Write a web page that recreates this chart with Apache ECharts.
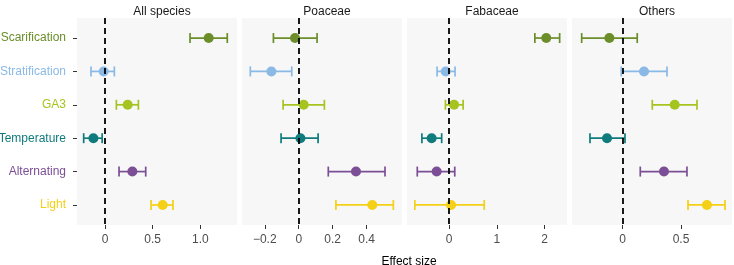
<!DOCTYPE html>
<html>
<head>
<meta charset="utf-8">
<script src="https://cdn.jsdelivr.net/npm/echarts@6/dist/echarts.min.js"></script>
<style>
  html, body { margin: 0; padding: 0; background: #fff; }
  #chart { width: 734px; height: 265px; }
</style>
</head>
<body>
<div id="chart"></div>
<script>
// treatments (rows, top to bottom) and facets
var categories = ['Scarification', 'Stratification', 'GA3', 'Temperature', 'Alternating', 'Light'];
var panels = ['All species', 'Poaceae', 'Fabaceae', 'Others'];

// effect size estimates and 95% CI, per facet, in category order
var allEst  = [1.088, -0.014, 0.238, -0.122, 0.287, 0.605];
var allLow  = [0.892, -0.147, 0.119, -0.224, 0.147, 0.483];
var allHigh = [1.283,  0.098, 0.350, -0.030, 0.427, 0.713];

var poaEst  = [-0.022, -0.161,  0.029,  0.010, 0.337, 0.433];
var poaLow  = [-0.149, -0.285, -0.092, -0.104, 0.174, 0.219];
var poaHigh = [ 0.108, -0.041,  0.151,  0.114, 0.508, 0.557];

var fabEst  = [2.036, -0.070,  0.105, -0.364, -0.259,  0.042];
var fabLow  = [1.797, -0.250, -0.076, -0.568, -0.665, -0.716];
var fabHigh = [2.316,  0.126,  0.295, -0.154,  0.120,  0.737];

var othEst  = [-0.114,  0.183, 0.446, -0.134, 0.354, 0.722];
var othLow  = [-0.351, -0.012, 0.254, -0.280, 0.151, 0.560];
var othHigh = [ 0.125,  0.380, 0.637,  0.020, 0.551, 0.877];

var xTicks = [[0, 0.5, 1.0], [-0.2, 0, 0.2, 0.4], [0, 1, 2], [0, 0.5]];
var tickFmt = [function (v) { return v === 0 ? '0' : v.toFixed(1); },
               function (v) { return v === 0 ? '0' : v.toFixed(1).replace('-', '\u2212'); },
               function (v) { return String(v); },
               function (v) { return v === 0 ? '0' : v.toFixed(1); }];

var palette = ['#6b8e2b', '#8ab9e6', '#a6c41f', '#0f7b7c', '#7b4e96', '#f4d016'];

var est = [allEst, poaEst, fabEst, othEst];
var low = [allLow, poaLow, fabLow, othLow];
var high = [allHigh, poaHigh, fabHigh, othHigh];

var lefts = [77, 242, 407, 572];
var panelW = 160;
var xRange = [[-0.294, 1.385], [-0.334, 0.608], [-0.88, 2.47], [-0.434, 0.937]];
var font = 'Liberation Sans, Arial, sans-serif';

var grid = [], xAxis = [], yAxis = [], series = [], title = [];

panels.forEach(function (name, p) {
    grid.push({
        left: lefts[p], top: 18, width: panelW, height: 207,
        outerBoundsMode: 'none', containLabel: false,
        show: true, backgroundColor: '#f7f7f7', borderWidth: 0
    });
    title.push({
        text: name, left: lefts[p] + panelW / 2, top: 1, textAlign: 'center',
        textStyle: { fontSize: 12, fontWeight: 'normal', color: '#1a1a1a', fontFamily: font }
    });
    xAxis.push({
        type: 'value', gridIndex: p, min: xRange[p][0], max: xRange[p][1],
        position: 'bottom',
        splitLine: { show: false },
        axisLine: { show: false, onZero: false },
        axisTick: { show: true, length: 4, customValues: xTicks[p], lineStyle: { color: '#333' } },
        axisLabel: {
            customValues: xTicks[p], formatter: tickFmt[p], margin: 9,
            fontSize: 12, color: '#4d4d4d', fontFamily: font
        }
    });
    yAxis.push({
        type: 'value', gridIndex: p, min: -0.6, max: 5.6, inverse: true,
        position: 'left',
        splitLine: { show: false },
        axisLine: { show: false, onZero: false },
        axisTick: { show: p === 0, length: 4, customValues: [0, 1, 2, 3, 4, 5], lineStyle: { color: '#333' } },
        axisLabel: {
            show: p === 0, customValues: [0, 1, 2, 3, 4, 5], margin: 11,
            fontSize: 12, fontFamily: font,
            formatter: function (v) { return categories[v]; },
            color: function (v) { return palette[v]; }
        }
    });

    // error bars
    series.push({
        type: 'custom', xAxisIndex: p, yAxisIndex: p,
        data: categories.map(function (c, i) { return [low[p][i], high[p][i], i]; }),
        encode: { x: [0, 1], y: 2 },
        renderItem: function (params, api) {
            var i = api.value(2);
            var a = api.coord([api.value(0), i]);
            var b = api.coord([api.value(1), i]);
            var h = 5;
            var st = { stroke: palette[i], lineWidth: 1.7 };
            return {
                type: 'group',
                children: [
                    { type: 'line', shape: { x1: a[0], y1: a[1], x2: b[0], y2: b[1] }, style: st },
                    { type: 'line', shape: { x1: a[0], y1: a[1] - h, x2: a[0], y2: a[1] + h }, style: st },
                    { type: 'line', shape: { x1: b[0], y1: b[1] - h, x2: b[0], y2: b[1] + h }, style: st }
                ]
            };
        },
        silent: true
    });

    // point estimates + zero line
    series.push({
        type: 'scatter', xAxisIndex: p, yAxisIndex: p,
        data: categories.map(function (c, i) { return [est[p][i], i]; }),
        symbolSize: 10,
        itemStyle: { opacity: 1, color: function (d) { return palette[d.data[1]]; } },
        markLine: {
            silent: true, symbol: 'none', animation: false,
            label: { show: false },
            lineStyle: { color: '#000', width: 1.8, type: [6, 4] },
            data: [{ xAxis: 0 }]
        },
        silent: true
    });
});

title.push({
    text: 'Effect size', left: 404, top: 251, textAlign: 'center',
    textStyle: { fontSize: 12, fontWeight: 'normal', color: '#000', fontFamily: font }
});

var chart = echarts.init(document.getElementById('chart'));
chart.setOption({
    animation: false,
    backgroundColor: '#fff',
    title: title,
    grid: grid,
    xAxis: xAxis,
    yAxis: yAxis,
    series: series
});
</script>
</body>
</html>
